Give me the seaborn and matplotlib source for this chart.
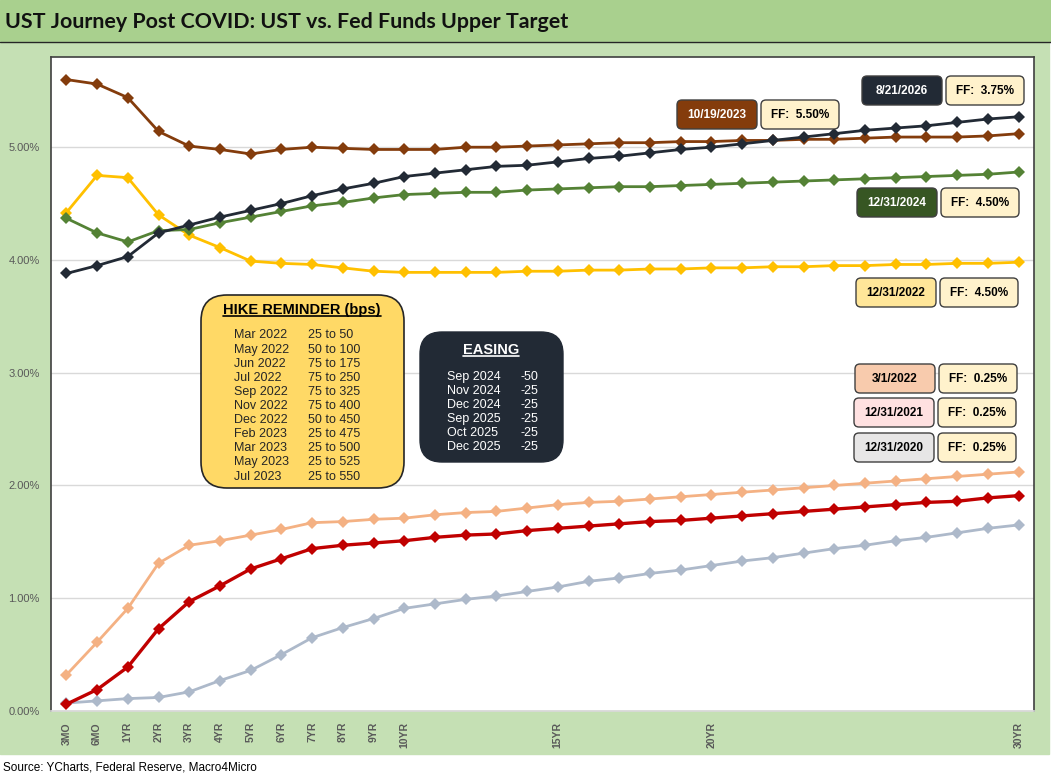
import numpy as np
import pandas as pd
import matplotlib
matplotlib.use("Agg")
import matplotlib.pyplot as plt
from matplotlib.patches import FancyBboxPatch, Rectangle
from matplotlib.lines import Line2D
from matplotlib.transforms import Affine2D
from matplotlib.ticker import FuncFormatter
import seaborn as sns

# ============================
# Data
# ============================

tenors = ["3MO", "6MO"] + [f"{i}YR" for i in range(1, 31)]
shown_tenors = ["3MO", "6MO", "1YR", "2YR", "3YR", "4YR", "5YR", "6YR", "7YR",
                "8YR", "9YR", "10YR", "15YR", "20YR", "30YR"]

ust_2020_12_31 = [0.07, 0.09, 0.11, 0.12, 0.17, 0.27, 0.36, 0.50, 0.65, 0.74, 0.82, 0.91,
                  0.95, 0.99, 1.02, 1.06, 1.10, 1.15, 1.18, 1.22, 1.25, 1.29, 1.33, 1.36,
                  1.40, 1.44, 1.47, 1.51, 1.54, 1.58, 1.62, 1.65]
ust_2021_12_31 = [0.06, 0.19, 0.39, 0.73, 0.97, 1.11, 1.26, 1.35, 1.44, 1.47, 1.49, 1.51,
                  1.54, 1.56, 1.57, 1.60, 1.62, 1.64, 1.66, 1.68, 1.69, 1.71, 1.73, 1.75,
                  1.77, 1.79, 1.81, 1.83, 1.85, 1.86, 1.89, 1.91]
ust_2022_03_01 = [0.32, 0.61, 0.91, 1.31, 1.47, 1.51, 1.56, 1.61, 1.67, 1.68, 1.70, 1.71,
                  1.74, 1.76, 1.77, 1.80, 1.83, 1.85, 1.86, 1.88, 1.90, 1.92, 1.94, 1.96,
                  1.98, 2.00, 2.02, 2.04, 2.06, 2.08, 2.10, 2.12]
ust_2022_12_31 = [4.42, 4.75, 4.73, 4.40, 4.22, 4.11, 3.99, 3.97, 3.96, 3.93, 3.90, 3.89,
                  3.89, 3.89, 3.89, 3.90, 3.90, 3.91, 3.91, 3.92, 3.92, 3.93, 3.93, 3.94,
                  3.94, 3.95, 3.95, 3.96, 3.96, 3.97, 3.97, 3.98]
ust_2023_10_19 = [5.60, 5.56, 5.44, 5.14, 5.01, 4.98, 4.94, 4.98, 5.00, 4.99, 4.98, 4.98,
                  4.98, 5.00, 5.00, 5.01, 5.02, 5.03, 5.04, 5.04, 5.05, 5.05, 5.06, 5.06,
                  5.07, 5.07, 5.08, 5.09, 5.09, 5.09, 5.10, 5.12]
ust_2024_12_31 = [4.37, 4.24, 4.16, 4.26, 4.27, 4.33, 4.38, 4.43, 4.48, 4.51, 4.55, 4.58,
                  4.59, 4.60, 4.60, 4.62, 4.63, 4.64, 4.65, 4.65, 4.66, 4.67, 4.68, 4.69,
                  4.70, 4.71, 4.72, 4.73, 4.74, 4.75, 4.76, 4.78]
ust_2026_08_21 = [3.88, 3.95, 4.03, 4.24, 4.31, 4.38, 4.44, 4.50, 4.57, 4.63, 4.68, 4.74,
                  4.77, 4.80, 4.83, 4.84, 4.87, 4.90, 4.92, 4.95, 4.98, 5.00, 5.03, 5.06,
                  5.09, 5.12, 5.15, 5.17, 5.19, 5.22, 5.25, 5.27]

curve_dates = ["12/31/2020", "12/31/2021", "3/1/2022", "12/31/2022",
               "10/19/2023", "12/31/2024", "8/21/2026"]
curve_values = [ust_2020_12_31, ust_2021_12_31, ust_2022_03_01, ust_2022_12_31,
                ust_2023_10_19, ust_2024_12_31, ust_2026_08_21]
ff_upper = ["0.25%", "0.25%", "0.25%", "4.50%", "5.50%", "4.50%", "3.75%"]

hike_months = ["Mar 2022", "May 2022", "Jun 2022", "Jul 2022", "Sep 2022", "Nov 2022",
               "Dec 2022", "Feb 2023", "Mar 2023", "May 2023", "Jul 2023"]
hike_moves = ["25 to 50", "50 to 100", "75 to 175", "75 to 250", "75 to 325", "75 to 400",
              "50 to 450", "25 to 475", "25 to 500", "25 to 525", "25 to 550"]
ease_months = ["Sep 2024", "Nov 2024", "Dec 2024", "Sep 2025", "Oct 2025", "Dec 2025"]
ease_moves = ["-50", "-25", "-25", "-25", "-25", "-25"]

# styling per curve
line_colors = ["#ADB9CA", "#C00000", "#F4B183", "#FFC000", "#843C0C", "#548235", "#222A35"]
line_widths = [2.0, 2.4, 2.0, 2.0, 2.0, 2.0, 2.0]
box_colors = ["#E7E6E6", "#FFE1E1", "#F8CBAD", "#FFE699", "#843C0C", "#375623", "#222A35"]
box_text = ["black", "black", "black", "black", "white", "white", "white"]
# top-left pixel of the date box (the FF box sits right of it)
box_xy = [(854, 433), (854, 398), (855, 364), (856, 278), (677, 100), (857, 188), (862, 76)]

df = pd.DataFrame({
    "curve": np.repeat(curve_dates, len(tenors)),
    "pos": np.tile(np.arange(len(tenors)), len(curve_dates)),
    "yield": np.concatenate(curve_values),
})

# ============================
# Figure
# ============================

sns.set_theme(style="white")
plt.rcParams["font.family"] = ["Liberation Sans", "DejaVu Sans"]

W, H = 1051, 784
fig = plt.figure(figsize=(W / 100, H / 100), dpi=100, facecolor="white")
# pixel transform, origin top-left
PX = Affine2D().scale(1 / 100, -1 / 100).translate(0, H / 100) + fig.dpi_scale_trans

fig.add_artist(Rectangle((0, 0), W, 41, transform=PX, color="#A9D08E", zorder=-10))
fig.add_artist(Rectangle((0, 42), 1049, 712, transform=PX, color="#C5E0B4", zorder=-10))
fig.add_artist(Line2D([0, W], [41.5, 41.5], transform=PX, color="#262626", lw=1, zorder=-9))
fig.text(5, 22, "UST Journey Post COVID: UST vs. Fed Funds Upper Target", transform=PX,
         fontsize=15.4, weight="bold", family=["Lato", "DejaVu Sans"], color="#111111",
         va="center", ha="left")
fig.text(3, 768, "Source: YCharts, Federal Reserve, Macro4Micro", transform=PX,
         fontsize=8.5, color="black", va="center", ha="left")

ax = fig.add_axes([51 / W, (H - 711) / H, (1034 - 51) / W, (711 - 57) / H])
ax.set_facecolor("white")

for date, col, lw in zip(curve_dates, line_colors, line_widths):
    sns.lineplot(data=df[df["curve"] == date], x="pos", y="yield", color=col,
                 linewidth=lw, marker="D", markersize=6, markeredgewidth=0,
                 sort=False, estimator=None, legend=False, ax=ax)

ax.set_xlim(-0.5, len(tenors) - 0.5)
ax.set_ylim(0, 5.8)
ax.set_xticks(np.arange(len(tenors)))
ax.set_xticklabels([t if t in shown_tenors else "" for t in tenors])
ax.set_yticks(np.arange(0, 6))
ax.yaxis.set_major_formatter(FuncFormatter(lambda v, _: f"{v:.2f}%"))
ax.tick_params(axis="x", length=0, pad=8, labelrotation=90, labelsize=7.5,
               labelcolor="#595959")
ax.tick_params(axis="y", length=0, pad=8, labelsize=8, labelcolor="#595959")
for lab in ax.get_xticklabels():
    lab.set_fontweight("bold")
ax.set_xlabel("")
ax.set_ylabel("")
ax.yaxis.grid(True, color="#D9D9D9", lw=1)
ax.xaxis.grid(False)
for side in ["left", "top", "right"]:
    ax.spines[side].set_color("#404040")
    ax.spines[side].set_linewidth(1.2)
ax.spines["bottom"].set_color("#D9D9D9")

# ============================
# Curve labels (date + FF upper target)
# ============================

def rbox(x, y, w, h, fc, r=5, ec="#3F3F3F", lw=1.0):
    fig.add_artist(FancyBboxPatch((x, y), w, h, boxstyle=f"round,pad=0,rounding_size={r}",
                                  transform=PX, fc=fc, ec=ec, lw=lw, zorder=5))

for (bx, by), date, fc, tc, ff in zip(box_xy, curve_dates, box_colors, box_text, ff_upper):
    rbox(bx, by, 80, 29, fc)
    fig.text(bx + 40, by + 15, date, transform=PX, ha="center", va="center",
             fontsize=8.5, weight="bold", color=tc, zorder=6)
    rbox(bx + 84, by, 78, 29, "#FFF2CC")
    fig.text(bx + 123, by + 15, f"FF:  {ff}", transform=PX, ha="center", va="center",
             fontsize=8.5, weight="bold", color="black", zorder=6)

# ============================
# Hike reminder / easing panels
# ============================

rbox(201, 295, 203, 193, "#FFD966", r=26, ec="#262626", lw=1.2)
hike_title = fig.text(302, 310, "HIKE REMINDER (bps)", transform=PX, ha="center",
                      va="center", fontsize=10.5, weight="bold", color="black", zorder=6)
for i, (m, mv) in enumerate(zip(hike_months, hike_moves)):
    y = 335.5 + i * 14.1
    fig.text(234, y, m, transform=PX, ha="left", va="center", fontsize=9, zorder=6)
    fig.text(308, y, mv, transform=PX, ha="left", va="center", fontsize=9, zorder=6)

rbox(420, 332, 143, 130, "#222A35", r=22, ec="#222A35", lw=1.0)
ease_title = fig.text(491, 350, "EASING", transform=PX, ha="center", va="center",
                      fontsize=10.5, weight="bold", color="white", zorder=6)
for i, (m, mv) in enumerate(zip(ease_months, ease_moves)):
    y = 376.7 + i * 14.0
    fig.text(447, y, m, transform=PX, ha="left", va="center", fontsize=9,
             color="white", zorder=6)
    fig.text(538, y, mv, transform=PX, ha="right", va="center", fontsize=9,
             color="white", zorder=6)

# underline the panel titles
fig.canvas.draw()
inv = PX.inverted()
for t, col in [(hike_title, "black"), (ease_title, "white")]:
    bb = t.get_window_extent()
    (x0, y0), (x1, y1) = inv.transform([[bb.x0, bb.y0], [bb.x1, bb.y1]])
    fig.add_artist(Line2D([x0, x1], [y0 - 1, y0 - 1], transform=PX, color=col,
                          lw=1.2, zorder=6))

fig.savefig("out.png", dpi=100, facecolor=fig.get_facecolor())
